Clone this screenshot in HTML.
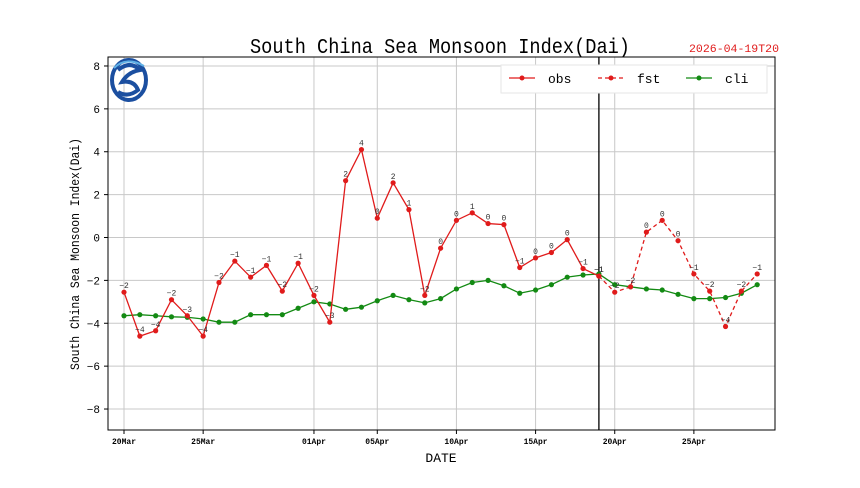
<!DOCTYPE html>
<html><head><meta charset="utf-8"><style>
body{margin:0;background:#fff;}
svg text{font-family:"Liberation Mono","Noto Sans CJK SC",monospace;}
</style></head><body>
<svg id="c" width="860" height="483" xmlns="http://www.w3.org/2000/svg"></svg>
<script>
const dayLabels=["20Mar","25Mar","01Apr","05Apr","10Apr","15Apr","20Apr","25Apr"];
const dayLabelIdx=[0,5,12,16,21,26,31,36];
const yTicks=[-8,-6,-4,-2,0,2,4,6,8];
const obs=[-2.55,-4.6,-4.35,-2.9,-3.65,-4.6,-2.1,-1.1,-1.85,-1.3,-2.5,-1.2,-2.7,-3.95,2.65,4.1,0.9,2.55,1.3,-2.7,-0.5,0.8,1.15,0.65,0.6,-1.4,-0.95,-0.7,-0.1,-1.45,-1.8];
const fst=[-1.8,-2.55,-2.3,0.25,0.8,-0.15,-1.7,-2.5,-4.15,-2.5,-1.7];
const fstStart=30;
const cli=[-3.65,-3.6,-3.65,-3.7,-3.72,-3.8,-3.95,-3.95,-3.6,-3.6,-3.6,-3.3,-3.0,-3.1,-3.35,-3.25,-2.95,-2.7,-2.9,-3.05,-2.85,-2.4,-2.1,-2.0,-2.25,-2.6,-2.45,-2.2,-1.85,-1.75,-1.7,-2.2,-2.3,-2.4,-2.45,-2.65,-2.85,-2.85,-2.8,-2.6,-2.2];
const nowIdx=30;

const L=108,R=775,T=57,B=430;
const X=d=>124+d*15.83;
const Y=v=>237.5-v*21.44;
const svg=document.getElementById('c');
const NS='http://www.w3.org/2000/svg';
function mk(tag,attrs,parent){const e=document.createElementNS(NS,tag);for(const k in attrs)e.setAttribute(k,attrs[k]);(parent||svg).appendChild(e);return e;}

const grid=mk('g',{});


yTicks.forEach(v=>{mk('line',{x1:L,x2:R,y1:Y(v),y2:Y(v),stroke:'#c8c8c8','stroke-width':1},grid);});
dayLabelIdx.forEach(d=>{mk('line',{x1:X(d),x2:X(d),y1:T,y2:B,stroke:'#c8c8c8','stroke-width':1},grid);});

const fr=mk('rect',{x:L,y:T,width:R-L,height:B-T,fill:'none',stroke:'#000','stroke-width':1});



yTicks.forEach(v=>{
  mk('line',{x1:L-4,x2:L,y1:Y(v),y2:Y(v),stroke:'#000'});
  const t=mk('text',{x:L-8,y:Y(v)+4,'text-anchor':'end','font-size':11,fill:'#000'});
  t.textContent=String(v).replace('-','\u2212');
  
  
});
dayLabelIdx.forEach((d,i)=>{
  mk('line',{x1:X(d),x2:X(d),y1:B,y2:B+4,stroke:'#000'});
  const t=mk('text',{x:X(d),y:B+14,'text-anchor':'middle','font-size':8,'font-weight':'bold',fill:'#000'});
  t.textContent=dayLabels[i];
  
  
});

const nl=mk('line',{x1:X(nowIdx),x2:X(nowIdx),y1:T,y2:B,stroke:'#000','stroke-width':1.3});



function series(vals,start,color,dash,name,labels){
  const g=mk('g',{});
  
  
  const pts=vals.map((v,i)=>X(start+i)+','+Y(v)).join(' ');
  const pl=mk('polyline',{points:pts,fill:'none',stroke:color,'stroke-width':1.3,'stroke-dasharray':dash||'none'},g);
  
  
  vals.forEach((v,i)=>{
    const c=mk('circle',{cx:X(start+i),cy:Y(v),r:2.6,fill:color},g);
    
    
    if(labels){
      const t=mk('text',{x:X(start+i),y:Y(v)-4,'text-anchor':'middle','font-size':8,fill:'#333'},g);
      t.textContent=String(Math.trunc(v)).replace('-','\u2212');
      
      
    }
  });
}
series(cli,0,'#138a13',null,'cli',false);
series(obs,0,'#e01b1b',null,'obs',true);
series(fst,fstStart,'#e01b1b','4,3','fst',true);

const ti=mk('text',{x:250,y:53,'font-size':21,fill:'#000',textLength:380,lengthAdjust:'spacingAndGlyphs'});
ti.textContent='South China Sea Monsoon Index(Dai)';


const ts=mk('text',{x:689,y:52,'font-size':11,fill:'#e01b1b',textLength:90,lengthAdjust:'spacingAndGlyphs'});
ts.textContent='2026-04-19T20';


const xl=mk('text',{x:441,y:462,'text-anchor':'middle','font-size':13,fill:'#000'});
xl.textContent='DATE';


const yl=mk('text',{x:-115,y:0,'font-size':13,fill:'#000',transform:'translate(79,255) rotate(-90)',textLength:232,lengthAdjust:'spacingAndGlyphs'});
yl.textContent='South China Sea Monsoon Index(Dai)';



const lg=mk('g',{});


mk('rect',{x:501,y:65,width:266,height:28,fill:'#fff',stroke:'#e6e6e6'},lg);
[['obs','#e01b1b',null,509],['fst','#e01b1b','4,3',598],['cli','#138a13',null,686]].forEach(([n,c,d,x0])=>{
  const e=mk('g',{},lg);
  
  
  mk('line',{x1:x0,x2:x0+26,y1:78,y2:78,stroke:c,'stroke-width':1.3,'stroke-dasharray':d||'none'},e);
  mk('circle',{cx:x0+13,cy:78,r:2.5,fill:c},e);
  const t=mk('text',{x:x0+39,y:83,'font-size':13,fill:'#000'},e);
  t.textContent=n;
});

const lo=mk('g',{});


mk('ellipse',{cx:129,cy:80,rx:17,ry:20,fill:'none',stroke:'#1b4fa0','stroke-width':4},lo);
mk('path',{d:'M118 70 Q130 60 140 70 Q128 72 122 82 Q134 80 138 90 Q128 98 118 92',fill:'none',stroke:'#1b4fa0','stroke-width':4},lo);
mk('path',{d:'M114 68 Q126 56 144 66',fill:'none',stroke:'#5fb0e6','stroke-width':2},lo);
</script>
</body></html>
